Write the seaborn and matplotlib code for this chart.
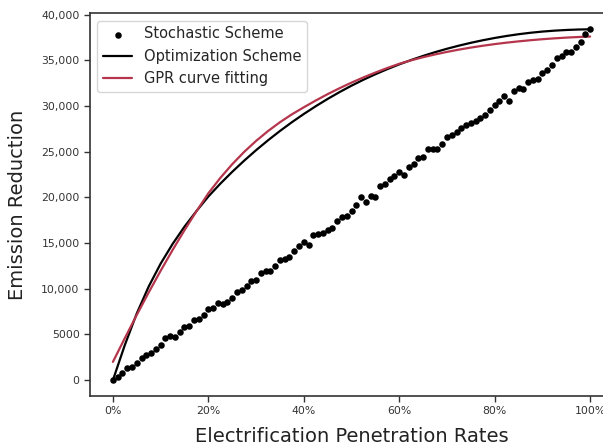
import matplotlib
matplotlib.use("Agg")
import matplotlib.pyplot as plt
import seaborn as sns
import pandas as pd

# ---- data (percent penetration, emission reduction) ----
stoch_x = list(range(0, 101))
stoch_y = [0, 350, 800, 1300, 1400, 1900, 2400, 2700, 3000, 3400,
           3800, 4600, 4800, 4700, 5300, 5800, 5900, 6600, 6700, 7100,
           7800, 7900, 8400, 8300, 8500, 9000, 9700, 9900, 10300, 10800,
           11000, 11700, 11900, 12000, 12500, 13200, 13300, 13500, 14100, 14700,
           15100, 14800, 15900, 16000, 16100, 16400, 16700, 17400, 17900, 18000,
           18500, 19200, 20000, 19500, 20200, 20100, 21300, 21500, 22000, 22300,
           22800, 22500, 23300, 23700, 24300, 24400, 25300, 25300, 25300, 25900,
           26600, 26800, 27200, 27600, 27900, 28100, 28400, 28700, 29000, 29600,
           30100, 30600, 31100, 30500, 31600, 32000, 31900, 32600, 32800, 33000,
           33600, 33900, 34500, 35300, 35500, 35900, 35900, 36500, 37000, 37900,
           38400]

curve_x = [0, 2.5, 5, 7.5, 10, 12.5, 15, 17.5, 20, 22.5, 25, 27.5, 30, 32.5,
           35, 37.5, 40, 42.5, 45, 47.5, 50, 52.5, 55, 57.5, 60, 62.5, 65, 67.5,
           70, 72.5, 75, 77.5, 80, 82.5, 85, 87.5, 90, 92.5, 95, 97.5, 100]
opt_y = [0, 3850, 7300, 10250, 12750, 14900, 16800, 18500, 20100, 21500,
         22800, 24020, 25170, 26250, 27270, 28230, 29130, 29980, 30780, 31530,
         32230, 32880, 33480, 34040, 34560, 35040, 35485, 35895, 36270, 36610,
         36920, 37200, 37450, 37670, 37860, 38020, 38150, 38250, 38325, 38375,
         38400]
gpr_y = [2000, 4600, 7140, 9600, 11970, 14240, 16410, 18480, 20450, 22130,
         23634, 24980, 26184, 27262, 28227, 29091, 29864, 30604, 31304, 31954,
         32564, 33134, 33664, 34164, 34624, 35004, 35344, 35649, 35924, 36174,
         36399, 36599, 36779, 36939, 37079, 37204, 37314, 37409, 37489, 37554,
         37609]

x_ticks = [0, 20, 40, 60, 80, 100]
x_tick_labels = ["0%", "20%", "40%", "60%", "80%", "100%"]
y_ticks = [0, 5000, 10000, 15000, 20000, 25000, 30000, 35000, 40000]
y_tick_labels = ["0", "5000", "10,000", "15,000", "20,000", "25,000",
                 "30,000", "35,000", "40,000"]

sns.set_theme(style="ticks")
plt.rcParams['font.family'] = ['DejaVu Sans']

fig = plt.figure(figsize=(6.03, 4.48), dpi=100)
ax = fig.add_axes([90/603, 52.3/448, 524/603, 382.4/448])

df_s = pd.DataFrame({"x": stoch_x, "y": stoch_y})
df_c = pd.DataFrame({"x": curve_x, "opt": opt_y, "gpr": gpr_y})

sns.scatterplot(data=df_s, x="x", y="y", ax=ax, color="black", s=22,
                edgecolor="black", linewidth=0, label="Stochastic Scheme", zorder=3)
sns.lineplot(data=df_c, x="x", y="opt", ax=ax, color="black", linewidth=1.6,
             label="Optimization Scheme")
sns.lineplot(data=df_c, x="x", y="gpr", ax=ax, color="#b5364c", linewidth=1.6,
             label="GPR curve fitting")

ax.set_xlim(-4.8, 105)
ax.set_ylim(-1700, 40150)
ax.set_xticks(x_ticks)
ax.set_xticklabels(x_tick_labels)
ax.set_yticks(y_ticks)
ax.set_yticklabels(y_tick_labels)
ax.tick_params(axis="both", labelsize=7.8, colors="#333333", length=4, width=1)
for sp in ax.spines.values():
    sp.set_visible(True)
    sp.set_color("#333333")
    sp.set_linewidth(1.2)

ax.set_xlabel("Electrification Penetration Rates", fontsize=14, color="#222222", labelpad=8)
ax.set_ylabel("Emission Reduction", fontsize=14, color="#222222", labelpad=10)

leg = ax.legend(loc="upper left", fontsize=10.5, frameon=True, handlelength=2.0)
leg.get_frame().set_edgecolor("#cccccc")

fig.savefig("out.png", dpi=100)
